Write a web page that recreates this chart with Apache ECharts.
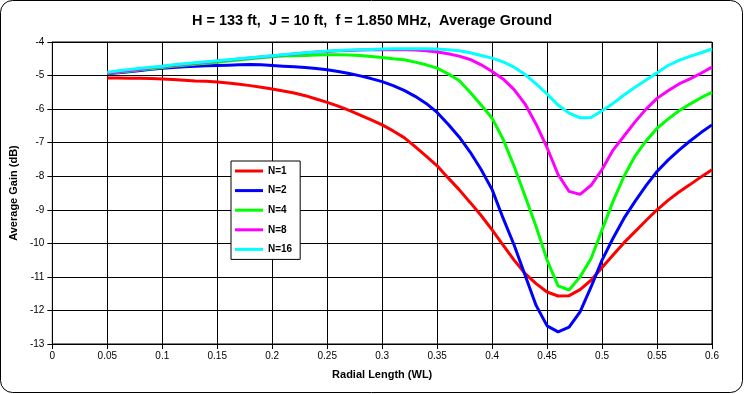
<!DOCTYPE html>
<html>
<head>
<meta charset="utf-8">
<script src="https://cdn.jsdelivr.net/npm/echarts@6/dist/echarts.min.js"></script>
<style>
html,body{margin:0;padding:0;background:#fff;}
#c{width:744px;height:394px;}
</style>
</head>
<body>
<div id="c"></div>
<script>
var radialLength = [0.05,0.06,0.07,0.08,0.09,0.10,0.11,0.12,0.13,0.14,0.15,0.16,0.17,0.18,0.19,0.20,0.21,0.22,0.23,0.24,0.25,0.26,0.27,0.28,0.29,0.30,0.31,0.32,0.33,0.34,0.35,0.36,0.37,0.38,0.39,0.40,0.41,0.42,0.43,0.44,0.45,0.46,0.47,0.48,0.49,0.50,0.51,0.52,0.53,0.54,0.55,0.56,0.57,0.58,0.59,0.60];

var gainN1 = [-5.07,-5.07,-5.08,-5.08,-5.09,-5.10,-5.12,-5.14,-5.16,-5.17,-5.19,-5.22,-5.26,-5.30,-5.35,-5.40,-5.46,-5.52,-5.60,-5.70,-5.80,-5.91,-6.04,-6.18,-6.32,-6.47,-6.65,-6.85,-7.12,-7.40,-7.69,-8.05,-8.40,-8.78,-9.17,-9.60,-10.05,-10.50,-10.90,-11.20,-11.45,-11.57,-11.56,-11.38,-11.10,-10.72,-10.35,-9.98,-9.65,-9.32,-9.00,-8.72,-8.47,-8.25,-8.02,-7.81];

var gainN2 = [-4.95,-4.92,-4.89,-4.85,-4.81,-4.78,-4.76,-4.74,-4.72,-4.71,-4.70,-4.69,-4.68,-4.67,-4.68,-4.70,-4.72,-4.74,-4.76,-4.79,-4.83,-4.88,-4.94,-5.01,-5.09,-5.18,-5.30,-5.44,-5.62,-5.83,-6.10,-6.45,-6.83,-7.28,-7.80,-8.40,-9.25,-10.05,-10.95,-11.85,-12.46,-12.64,-12.50,-12.04,-11.30,-10.50,-9.85,-9.25,-8.75,-8.28,-7.86,-7.52,-7.22,-6.95,-6.70,-6.47];

var gainN4 = [-4.93,-4.90,-4.87,-4.83,-4.80,-4.76,-4.72,-4.69,-4.66,-4.63,-4.60,-4.57,-4.54,-4.50,-4.47,-4.44,-4.42,-4.41,-4.40,-4.39,-4.38,-4.38,-4.39,-4.40,-4.43,-4.46,-4.50,-4.53,-4.60,-4.68,-4.78,-4.95,-5.15,-5.50,-5.88,-6.27,-6.90,-7.70,-8.60,-9.50,-10.50,-11.27,-11.39,-11.00,-10.45,-9.60,-8.75,-8.00,-7.40,-6.95,-6.57,-6.30,-6.05,-5.85,-5.66,-5.50];

var gainN8 = [-4.93,-4.89,-4.85,-4.81,-4.77,-4.73,-4.70,-4.66,-4.63,-4.60,-4.57,-4.54,-4.51,-4.48,-4.45,-4.42,-4.39,-4.36,-4.33,-4.30,-4.28,-4.26,-4.25,-4.24,-4.23,-4.23,-4.23,-4.23,-4.24,-4.26,-4.30,-4.35,-4.42,-4.52,-4.68,-4.88,-5.10,-5.42,-5.85,-6.45,-7.15,-7.95,-8.45,-8.54,-8.27,-7.80,-7.22,-6.80,-6.38,-6.00,-5.68,-5.45,-5.25,-5.10,-4.93,-4.75];

var gainN16 = [-4.90,-4.86,-4.82,-4.78,-4.75,-4.72,-4.68,-4.65,-4.62,-4.59,-4.56,-4.53,-4.50,-4.47,-4.44,-4.41,-4.38,-4.35,-4.32,-4.30,-4.27,-4.25,-4.24,-4.23,-4.22,-4.21,-4.20,-4.20,-4.20,-4.20,-4.21,-4.23,-4.26,-4.32,-4.40,-4.48,-4.59,-4.75,-4.97,-5.25,-5.55,-5.88,-6.12,-6.26,-6.25,-6.05,-5.83,-5.58,-5.35,-5.13,-4.92,-4.70,-4.55,-4.43,-4.32,-4.21];

var seriesNames = ['N=1','N=2','N=4','N=8','N=16'];
var seriesColors = ['#FF0000','#0000FF','#00FF00','#FF00FF','#00FFFF'];
var seriesValues = [gainN1, gainN2, gainN4, gainN8, gainN16];

var titleText = 'H = 133 ft,  J = 10 ft,  f = 1.850 MHz,  Average Ground';
var xAxisTitle = 'Radial Length (WL)';
var yAxisTitle = 'Average Gain (dB)';

function pairs(vals){
  return radialLength.map(function(x,i){ return [x, vals[i]]; });
}

var chart = echarts.init(document.getElementById('c'), null, {renderer:'canvas'});
var series = seriesNames.map(function(n, i){
  return {
    name: n, type: 'line', data: pairs(seriesValues[i]),
    showSymbol: false, symbol: 'none', smooth: false,
    lineStyle: {color: seriesColors[i], width: 3},
    itemStyle: {color: seriesColors[i]},
    animation: false
  };
});

chart.setOption({
  animation: false,
  backgroundColor: '#fff',
  title: {
    text: titleText, left: 'center', top: 8,
    textStyle: {fontFamily: 'Liberation Sans, Arial', fontSize: 14.5, fontWeight: 'bold', color: '#000'}
  },
  graphic: [{
    type: 'rect', z: -1, silent: true,
    shape: {x: 0.5, y: 0.5, width: 742, height: 392, r: 12},
    style: {fill: 'none', stroke: '#000', lineWidth: 1}
  }],
  grid: {left: 52, right: 32, top: 42, bottom: 50, show: true, borderColor: '#000', borderWidth: 1, containLabel: false},
  legend: {
    data: seriesNames, orient: 'vertical', left: 231, top: 161,
    backgroundColor: '#fff', borderColor: '#000', borderWidth: 1, borderRadius: 0,
    padding: [3, 8, 3, 4], itemGap: 5.6, itemWidth: 28, itemHeight: 3, itemTextGap: 2,
    icon: 'rect',
    textStyle: {fontFamily: 'Liberation Sans, Arial', fontSize: 10, fontWeight: 'bold', color: '#000', lineHeight: 14}
  },
  xAxis: {
    type: 'value', min: 0, max: 0.6, interval: 0.05,
    name: xAxisTitle, nameLocation: 'middle', nameGap: 25,
    nameTextStyle: {fontFamily: 'Liberation Sans, Arial', fontSize: 11, fontWeight: 'bold', color: '#000'},
    axisLine: {show: true, onZero: false, lineStyle: {color: '#000', width: 1}},
    axisTick: {show: true, inside: false, length: 5, lineStyle: {color: '#000'}},
    axisLabel: {fontFamily: 'Liberation Sans, Arial', fontSize: 10, color: '#000', margin: 7},
    splitLine: {show: true, lineStyle: {color: '#000', width: 1}}
  },
  yAxis: {
    type: 'value', min: -13, max: -4, interval: 1,
    name: yAxisTitle, nameLocation: 'middle', nameGap: 30, nameRotate: 90,
    nameTextStyle: {fontFamily: 'Liberation Sans, Arial', fontSize: 11, fontWeight: 'bold', color: '#000'},
    axisLine: {show: true, onZero: false, lineStyle: {color: '#000', width: 1}},
    axisTick: {show: true, inside: false, length: 5, lineStyle: {color: '#000'}},
    axisLabel: {fontFamily: 'Liberation Sans, Arial', fontSize: 10, color: '#000', margin: 8},
    splitLine: {show: true, lineStyle: {color: '#000', width: 1}}
  },
  series: series
});
</script>
</body>
</html>
